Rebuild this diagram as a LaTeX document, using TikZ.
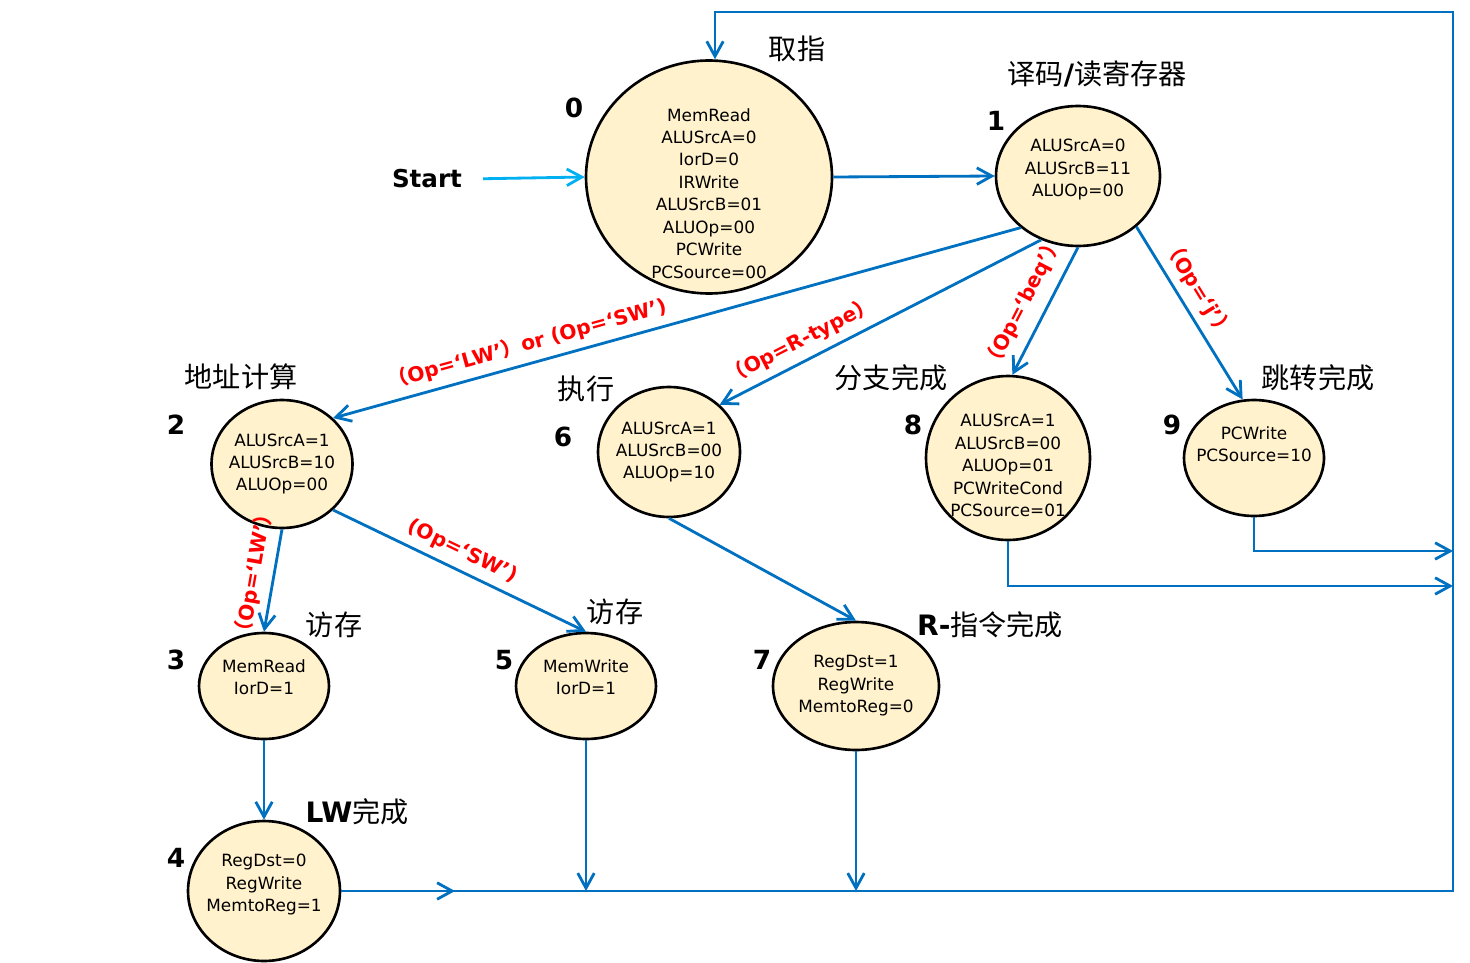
\documentclass[tikz,border=0pt]{standalone}
\usepackage{fontspec}
\setmainfont{DejaVu Sans}
\newfontfamily\cjk{Noto Sans CJK SC}
\definecolor{myblue}{RGB}{0,112,192}
\definecolor{mycyan}{RGB}{0,176,240}
\definecolor{myred}{RGB}{255,0,0}
\definecolor{myfill}{RGB}{255,242,204}
\usetikzlibrary{arrows.meta,shapes.geometric,positioning}
\newcommand{\lp}{{\cjk （}}
\newcommand{\rp}{{\cjk ）}}
% shift the text of a state down (first line) or up (last line)
\newcommand{\txtdn}[1]{\rule{0pt}{#1}}
\newcommand{\txtup}[1]{\rule[-#1]{0pt}{#1}}

\begin{document}
\begin{tikzpicture}[x=0.02cm,y=-0.02cm,
  state/.style={ellipse,draw,line width=1.5pt,fill=myfill,align=center,
    inner sep=-6pt,font=\fontsize{9.6}{12.8}\selectfont},
  num/.style={font=\fontsize{15}{15}\selectfont\bfseries},
  stname/.style={font=\fontsize{16}{16}\selectfont\cjk},
  cond/.style={text=myred,font=\fontsize{11.5}{11.5}\selectfont\bfseries,
    sloped,above=1pt},
  flow/.style={draw=myblue,line width=1.6pt,
    -{Straight Barb[length=3mm,width=3.3mm]}}
  ]
  \useasboundingbox (0,0) rectangle (1470,963);

  % the states
  \node[state,inner ysep=-14pt,minimum width=4.92cm,minimum height=4.66cm] (s0) at (709,177)
    {\txtdn{26pt}MemRead\\ALUSrcA=0\\IorD=0\\IRWrite\\ALUSrcB=01\\ALUOp=00\\PCWrite\\PCSource=00};
  \node[state,minimum width=3.28cm,minimum height=2.80cm] (s1) at (1078,176)
    {ALUSrcA=0\\ALUSrcB=11\\ALUOp=00\txtup{9.2pt}};
  \node[state,minimum width=2.82cm,minimum height=2.56cm] (s2) at (282,464)
    {ALUSrcA=1\\ALUSrcB=10\\ALUOp=00};
  \node[state,minimum width=2.84cm,minimum height=2.60cm] (s6) at (669,452)
    {ALUSrcA=1\\ALUSrcB=00\\ALUOp=10};
  \node[state,minimum width=3.28cm,minimum height=3.28cm] (s8) at (1008,458)
    {\txtdn{16pt}ALUSrcA=1\\ALUSrcB=00\\ALUOp=01\\PCWriteCond\\PCSource=01};
  \node[state,minimum width=2.80cm,minimum height=2.32cm] (s9) at (1254,458)
    {PCWrite\\PCSource=10\txtup{16pt}};
  \node[state,minimum width=2.60cm,minimum height=2.12cm] (s3) at (264,686)
    {MemRead\\IorD=1\txtup{10.4pt}};
  \node[state,minimum width=2.80cm,minimum height=2.12cm] (s5) at (586,686)
    {MemWrite\\IorD=1\txtup{10.4pt}};
  \node[state,minimum width=3.32cm,minimum height=2.56cm] (s7) at (856,686)
    {RegDst=1\\RegWrite\\MemtoReg=0};
  \node[state,minimum width=3.04cm,minimum height=2.80cm] (s4) at (264,891)
    {RegDst=0\\RegWrite\\MemtoReg=1\txtup{9.2pt}};

  % the state numbers
  \node[num] (n0) at (574,108) {0};
  \node[num] (n1) at (996,121) {1};
  \node[num] (n2) at (176,425) {2};
  \node[num] (n6) at (563,437) {6};
  \node[num] (n8) at (913,425) {8};
  \node[num] (n9) at (1172,425) {9};
  \node[num] (n3) at (176,660) {3};
  \node[num] (n5) at (504,660) {5};
  \node[num] (n7) at (762,660) {7};
  \node[num] (n4) at (176,858) {4};

  % the state names
  \node[stname] (t0) at (797,49) {取指};
  \node[stname] (t1) at (1097,74) {译码{\rmfamily\bfseries/}读寄存器};
  \node[stname] (t2) at (241,377) {地址计算};
  \node[stname] (t6) at (586,389) {执行};
  \node[stname] (t8) at (891,378) {分支完成};
  \node[stname] (t9) at (1318,378) {跳转完成};
  \node[stname] (t3) at (334,625) {访存};
  \node[stname] (t5) at (615,612) {访存};
  \node[stname] (t7) at (990,625) {{\rmfamily\bfseries R-}指令完成};
  \node[stname] (t4) at (357,812) {{\rmfamily\bfseries LW}完成};

  % the start
  \node[num,font=\fontsize{14}{14}\selectfont\bfseries] (start) at (427,179) {Start};
  \draw[flow,draw=mycyan,shorten <=3mm] (start.east) -- (s0.west);

  % the edges
  \draw[flow] (s0.east) -- (s1.west);
  \draw[flow] (s1.222) -- node[cond,pos=0.71] (c2) {\lp Op=‘LW’\rp or (Op=‘SW’)} (s2.42);
  \draw[flow] (s1.240) -- node[cond,pos=0.72] (c6) {\lp Op=R-type\rp} (s6.43);
  \draw[flow] (s1.270) -- node[cond,pos=0.52,above=3pt] (c8) {\lp Op=‘beq’\rp} (s8.87);
  \draw[flow] (s1.319) -- node[cond,pos=0.42] (c9) {\lp Op=‘j’\rp} (s9.101);
  \draw[flow] (s2.270) -- node[cond,pos=0.46] (c3) {\lp Op=‘LW’\rp} (s3.90);
  \draw[flow] (s2.318) -- node[cond,pos=0.48] (c5) {(Op=‘SW’)} (s5.90);
  \draw[flow] (s6.270) -- (s7.90);
  \draw[flow] (s3.270) -- (s4.90);

  % the way back
  \coordinate (bm) at (455,891);
  \coordinate (br) at (1453,891);
  \coordinate (tl) at (715,12);
  \coordinate (r9) at (1453,551);
  \coordinate (r8) at (1453,586);
  \draw[flow] (s4.east) -- (bm);
  \draw[flow] (s4.east) -- (br) |- (tl) -- (tl |- s0.north);
  \draw[flow] (s5.south) -- (s5.south |- br);
  \draw[flow] (s7.south) -- (s7.south |- br);
  \draw[flow] (s9.south) |- (r9);
  \draw[flow] (s8.south) |- (r8);
\end{tikzpicture}
\end{document}
